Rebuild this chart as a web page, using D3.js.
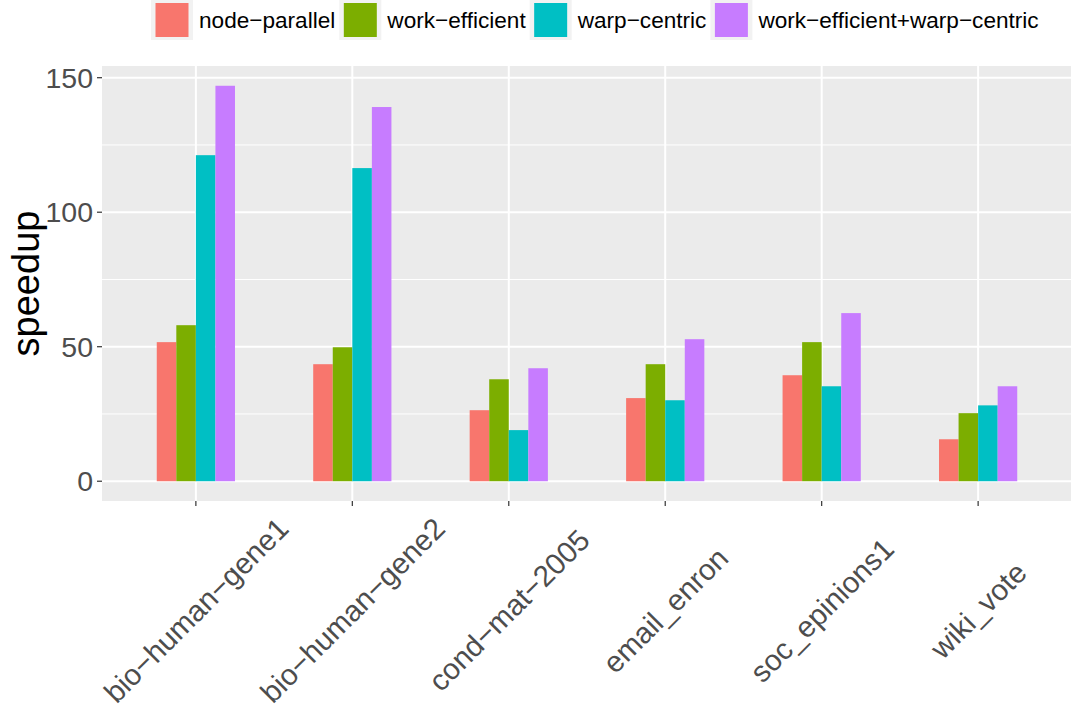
<!DOCTYPE html>
<html>
<head>
<meta charset="utf-8">
<script src="https://cdn.jsdelivr.net/npm/d3@7"></script>
<style>
  body { margin: 0; background: #fff; }
  svg { font-family: "Liberation Sans", Arial, sans-serif; }
</style>
</head>
<body>
<svg class="chart" width="1071" height="711"></svg>
<script>
const graphs = ['bio\u2212human\u2212gene1', 'bio\u2212human\u2212gene2', 'cond\u2212mat\u22122005', 'email_enron', 'soc_epinions1', 'wiki_vote']
const methods = ['node\u2212parallel', 'work\u2212efficient', 'warp\u2212centric', 'work\u2212efficient+warp\u2212centric']
const colors = ['#F8766D', '#7CAE00', '#00BFC4', '#C77CFF']

// speedup per graph, one array per method
const nodeParallel = [51.7, 43.5, 26.4, 30.9, 39.4, 15.6]
const workEfficient = [58.0, 49.8, 37.9, 43.5, 51.7, 25.3]
const warpCentric = [121.2, 116.4, 19.0, 30.1, 35.3, 28.2]
const combined = [147.0, 139.1, 42.0, 52.8, 62.5, 35.3]
const series = [nodeParallel, workEfficient, warpCentric, combined]

const majorTicks = [0, 50, 100, 150]
const minorTicks = [25, 75, 125]

const svg = d3.select('svg.chart')

const pLeft = 102, pRight = 1072, pTop = 66, pBottom = 501

const x = d3.scalePoint().domain(graphs).range([pLeft, pRight]).padding(0.6)
const step = x.step()
const xInner = d3.scaleBand().domain(methods).range([-step * 0.25, step * 0.25])

const maxV = d3.max(series, s => d3.max(s))
const pad = maxV * 0.05
const y = d3.scaleLinear().domain([-pad, maxV + pad]).range([pBottom, pTop])

// panel
svg.append('rect')
  .attr('x', pLeft).attr('y', pTop)
  .attr('width', pRight - pLeft).attr('height', pBottom - pTop)
  .attr('fill', '#EBEBEB')

svg.selectAll('line.minor')
  .data(minorTicks)
  .enter()
  .append('line')
  .attr('x1', pLeft).attr('x2', pRight)
  .attr('y1', d => y(d)).attr('y2', d => y(d))
  .attr('stroke', '#fff').attr('stroke-width', 1)

svg.selectAll('line.major')
  .data(majorTicks)
  .enter()
  .append('line')
  .attr('x1', pLeft).attr('x2', pRight)
  .attr('y1', d => y(d)).attr('y2', d => y(d))
  .attr('stroke', '#fff').attr('stroke-width', 2)

svg.selectAll('line.vgrid')
  .data(graphs)
  .enter()
  .append('line')
  .attr('x1', d => x(d)).attr('x2', d => x(d))
  .attr('y1', pTop).attr('y2', pBottom)
  .attr('stroke', '#fff').attr('stroke-width', 2)

// bars
const barData = []
graphs.forEach((g, i) => {
  methods.forEach((m, j) => {
    barData.push({ g: g, m: m, v: series[j][i], c: colors[j] })
  })
})

svg.selectAll('rect.bar')
  .data(barData)
  .enter()
  .append('rect')
  .attr('class', 'bar')
  .attr('x', d => x(d.g) + xInner(d.m))
  .attr('width', xInner.bandwidth())
  .attr('y', d => y(d.v))
  .attr('height', d => y(0) - y(d.v))
  .attr('fill', d => d.c)

// y axis
const yAxis = svg.append('g')
yAxis.selectAll('line')
  .data(majorTicks)
  .enter()
  .append('line')
  .attr('x1', pLeft - 5).attr('x2', pLeft)
  .attr('y1', d => y(d)).attr('y2', d => y(d))
  .attr('stroke', '#333').attr('stroke-width', 1.2)
yAxis.selectAll('text')
  .data(majorTicks)
  .enter()
  .append('text')
  .attr('x', pLeft - 9)
  .attr('y', d => y(d))
  .attr('dy', '0.36em')
  .attr('text-anchor', 'end')
  .attr('font-size', 28.5)
  .attr('fill', '#4D4D4D')
  .text(d => d)

// x axis
const xAxis = svg.append('g')
xAxis.selectAll('line')
  .data(graphs)
  .enter()
  .append('line')
  .attr('x1', d => x(d)).attr('x2', d => x(d))
  .attr('y1', pBottom).attr('y2', pBottom + 5)
  .attr('stroke', '#333').attr('stroke-width', 1.2)
xAxis.selectAll('text')
  .data(graphs)
  .enter()
  .append('text')
  .attr('transform', d => `translate(${x(d)}, 610) rotate(-45)`)
  .attr('dy', '0.36em')
  .attr('text-anchor', 'middle')
  .attr('font-size', 29.5)
  .attr('fill', '#4D4D4D')
  .text(d => d)

svg.append('text')
  .attr('transform', `translate(39, ${(pTop + pBottom) / 2}) rotate(-90)`)
  .attr('text-anchor', 'middle')
  .attr('font-size', 38)
  .attr('fill', '#000')
  .text('speedup')

// legend
const legend = svg.append('g')
let lx = 151
methods.forEach((m, i) => {
  legend.append('rect')
    .attr('x', lx).attr('y', 0)
    .attr('width', 42).attr('height', 40)
    .attr('fill', '#F2F2F2')
  legend.append('rect')
    .attr('x', lx + 4.5).attr('y', 3)
    .attr('width', 33).attr('height', 34)
    .attr('fill', colors[i])
  const t = legend.append('text')
    .attr('x', lx + 48)
    .attr('y', 20)
    .attr('dy', '0.36em')
    .attr('font-size', 22.6)
    .attr('fill', '#000')
    .text(m)
  lx += 48 + t.node().getComputedTextLength() + 4
})
</script>
</body>
</html>
